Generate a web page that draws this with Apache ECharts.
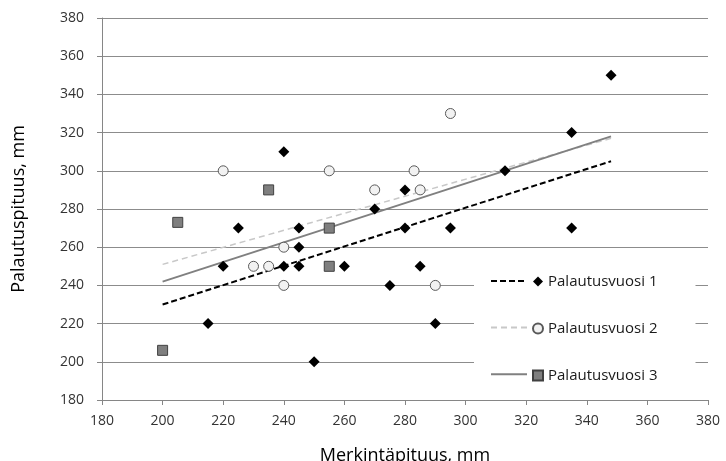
<!DOCTYPE html>
<html>
<head>
<meta charset="utf-8">
<script src="https://cdn.jsdelivr.net/npm/echarts@6/dist/echarts.min.js"></script>
<style>
  html, body { margin: 0; padding: 0; background: #fff; }
  #chart { width: 726px; height: 461px; }
</style>
</head>
<body>
<div id="chart"></div>
<script>
// vuosi 1 (mustat vinoneliöt)
const year1 = [
  [215, 220], [220, 250], [225, 270], [240, 310], [240, 250], [245, 270],
  [245, 260], [245, 250], [250, 200], [260, 250], [270, 280], [275, 240],
  [280, 290], [280, 270], [285, 250], [290, 220], [295, 270], [313, 300],
  [335, 320], [335, 270], [348, 350]
];
// vuosi 2 (avoimet ympyrät)
const year2 = [
  [220, 300], [230, 250], [235, 250], [240, 260], [240, 240], [255, 300],
  [270, 290], [283, 300], [285, 290], [290, 240], [295, 330]
];
// vuosi 3 (harmaat neliöt)
const year3 = [[200, 206], [205, 273], [235, 290], [255, 270], [255, 250]];

// trendiviivojen päätepisteet kuvasta luettuna
const trend1 = [[200, 230], [348, 305]];
const trend2 = [[200, 251], [348, 317]];
const trend3 = [[200, 242], [348, 318]];

const seriesNames = ['Palautusvuosi 1', 'Palautusvuosi 2', 'Palautusvuosi 3'];
const trendNames = ['Trendi 1', 'Trendi 2', 'Trendi 3'];

const font = 'Open Sans';
const axisColor = '#868686';

const chart = echarts.init(document.getElementById('chart'));

chart.setOption({
  animation: false,
  grid: { left: 102, right: 18, top: 18, bottom: 61, outerBoundsMode: 'none' },
  xAxis: {
    type: 'value',
    min: 180,
    max: 380,
    interval: 20,
    name: 'Merkintäpituus, mm',
    nameLocation: 'middle',
    nameGap: 47,
    nameTextStyle: { fontFamily: font, fontSize: 18, color: '#000' },
    axisLine: { show: true, lineStyle: { color: axisColor } },
    axisTick: { show: true, length: 5, lineStyle: { color: axisColor } },
    axisLabel: { fontFamily: font, fontSize: 14, color: '#333', margin: 14 },
    splitLine: { show: false }
  },
  yAxis: {
    type: 'value',
    min: 180,
    max: 380,
    interval: 20,
    name: 'Palautuspituus, mm',
    nameLocation: 'middle',
    nameGap: 74,
    nameTextStyle: { fontFamily: font, fontSize: 18, color: '#000' },
    axisLine: { show: true, lineStyle: { color: axisColor } },
    axisTick: { show: true, length: 5, lineStyle: { color: axisColor } },
    axisLabel: { fontFamily: font, fontSize: 14, color: '#333', margin: 18 },
    splitLine: { show: true, lineStyle: { color: '#8c8c8c', width: 1 } }
  },
  legend: [
    {
      // viivanäytteet
      data: trendNames,
      orient: 'vertical',
      left: 474,
      top: 255,
      padding: [19, 0, 14, 16],
      itemWidth: 37,
      itemHeight: 14,
      itemGap: 34,
      z: 4,
      backgroundColor: '#fff',
      selectedMode: false,
      itemStyle: { opacity: 0 },
      formatter: () => ''
    },
    {
      // merkit ja tekstit
      data: seriesNames,
      orient: 'vertical',
      left: 527,
      top: 255,
      padding: [19, 38, 16, 5],
      itemWidth: 10,
      itemHeight: 10,
      itemGap: 32,
      z: 5,
      backgroundColor: '#fff',
      selectedMode: false,
      textStyle: { fontFamily: font, fontSize: 15, color: '#1a1a1a' }
    }
  ],
  series: [
    {
      name: trendNames[0],
      type: 'line',
      data: trend1,
      showSymbol: false,
      symbol: 'circle',
      lineStyle: { color: '#000', width: 2, type: [6, 3] },
      itemStyle: { color: '#000' },
      z: 1
    },
    {
      name: trendNames[1],
      type: 'line',
      data: trend2,
      showSymbol: false,
      symbol: 'circle',
      lineStyle: { color: '#c8c8c8', width: 1.5, type: [6, 4] },
      itemStyle: { color: '#c8c8c8' },
      z: 1
    },
    {
      name: trendNames[2],
      type: 'line',
      data: trend3,
      showSymbol: false,
      symbol: 'circle',
      lineStyle: { color: '#808080', width: 2 },
      itemStyle: { color: '#808080' },
      z: 1
    },
    {
      name: seriesNames[0],
      type: 'scatter',
      data: year1,
      symbol: 'diamond',
      symbolSize: 11,
      itemStyle: { color: '#000', opacity: 1 }
    },
    {
      name: seriesNames[1],
      type: 'scatter',
      data: year2,
      symbol: 'circle',
      symbolSize: 10,
      itemStyle: { color: '#f2f2f2', borderColor: '#595959', borderWidth: 1, opacity: 1 }
    },
    {
      name: seriesNames[2],
      type: 'scatter',
      data: year3,
      symbol: 'rect',
      symbolSize: 10,
      itemStyle: { color: '#7f7f7f', borderColor: '#404040', borderWidth: 1, opacity: 1 }
    }
  ]
});
</script>
</body>
</html>
